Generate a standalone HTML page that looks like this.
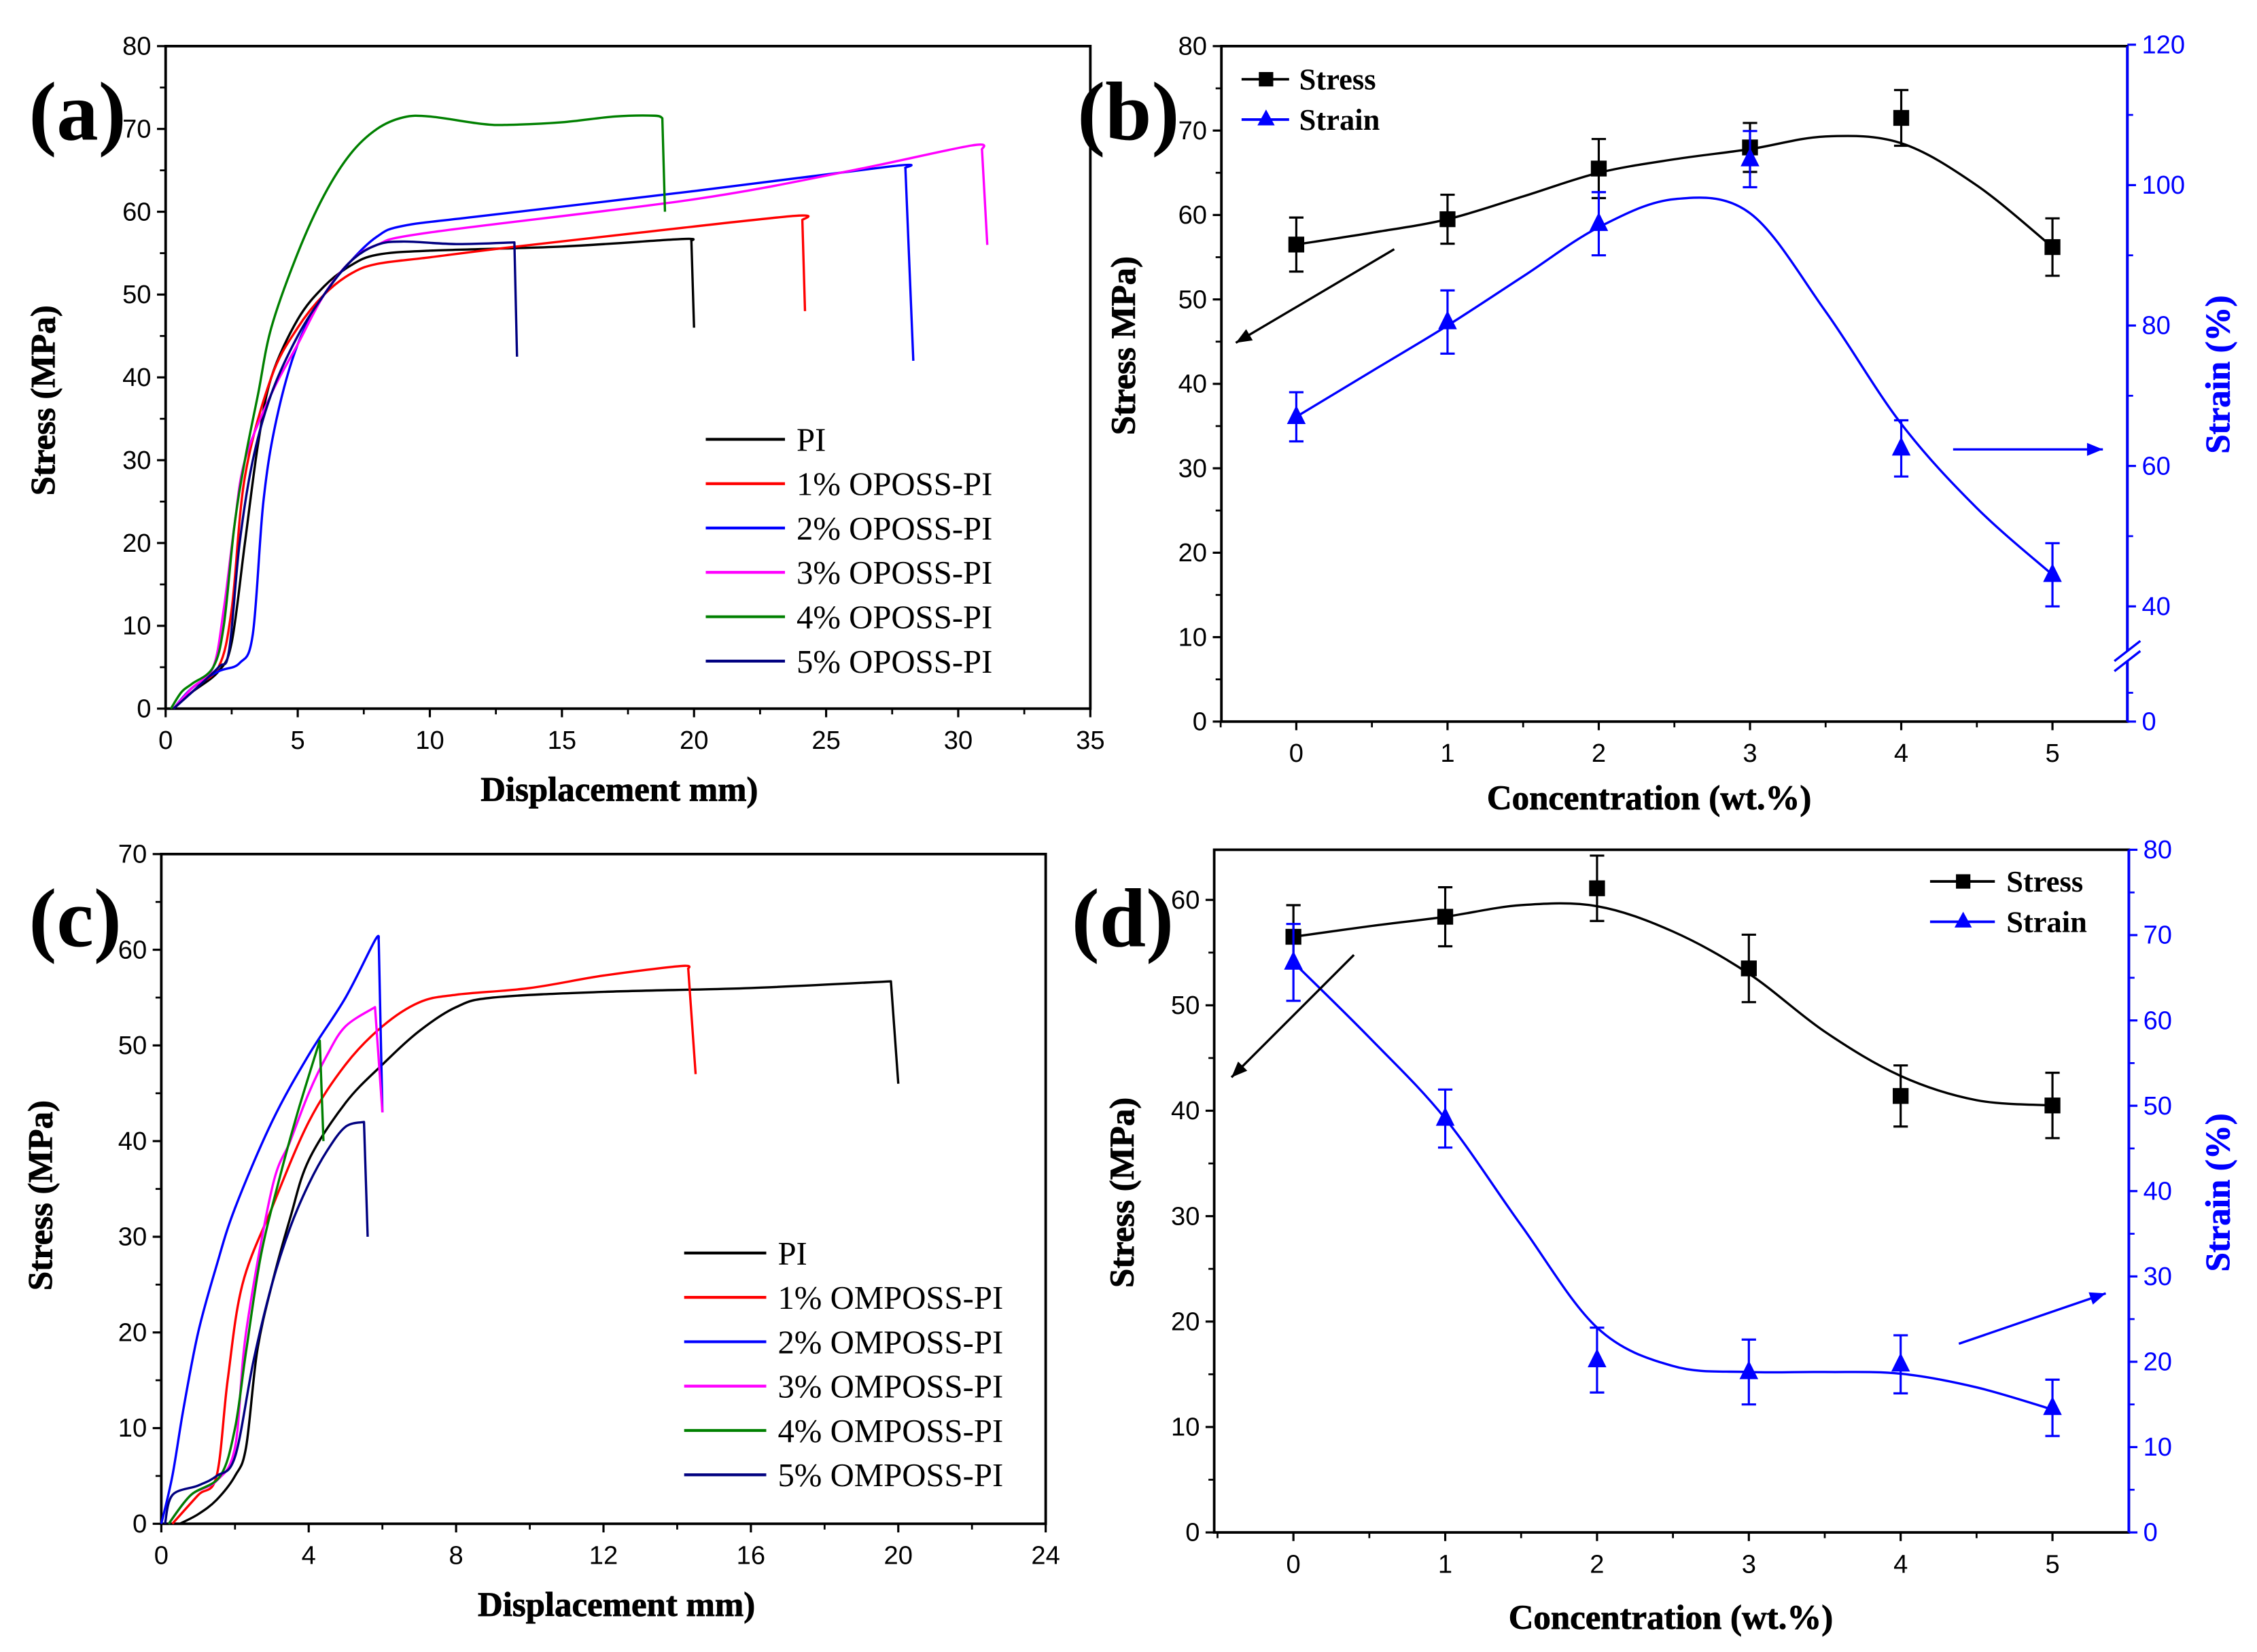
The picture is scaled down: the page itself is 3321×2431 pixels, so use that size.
<!DOCTYPE html>
<html><head><meta charset="utf-8"><style>
html,body{margin:0;padding:0;background:#fff;}
svg{display:block;}
text{font-family:"Liberation Sans",Arial,sans-serif;}
.t{font-family:"Liberation Serif","Times New Roman",serif;font-weight:bold;}
.lg{font-family:"Liberation Serif","Times New Roman",serif;}
</style></head><body>
<svg id="fig" width="3321" height="2431" viewBox="0 0 1567 1147" xmlns="http://www.w3.org/2000/svg"></svg>
<script>
// ---------- Data ----------
const aPI=[[0.3,0],[1,2],[2,4.5],[2.5,8],[3,20],[3.5,32],[4,40],[5,47],[6,51],[7,53.5],[8,54.8],[10,55.3],[15,55.8],[19.5,56.7],[19.9,56.5],[20,46]];
const a1=[[0.3,0],[1,2.5],[2,5],[2.5,12],[3,28],[4,40],[5,46],[6,50],[7,52.5],[8,53.7],[10,54.5],[13,55.7],[18,57.5],[23.8,59.5],[24.1,59],[24.2,48]];
const a2=[[0.3,0],[1,2.5],[2,4.5],[2.8,5.5],[3.3,9],[3.7,25],[4.2,35],[5,44],[6,50],[7,54],[8,57],[9,58.3],[12,59.5],[20,62.5],[27.5,65.5],[28,65.3],[28.3,42]];
const a3=[[0.3,0],[1,2.5],[1.8,5],[2.2,12],[2.6,22],[3,30],[4,38],[5,44],[6,50],[7,54],[8,56],[10,57.5],[20,61.5],[26,65],[30.5,68],[30.9,67.5],[31.1,56]];
const a4=[[0.2,0],[0.6,2],[1,3],[1.8,5],[2.2,10],[2.6,22],[3,30],[3.5,38],[4,46],[5,55],[6,62],[7,67],[8,70],[9,71.4],[10,71.5],[12,70.6],[13,70.5],[15,70.8],[17,71.5],[18.5,71.6],[18.8,71.3],[18.9,60]];
const a5=[[0.3,0],[1,2],[2,5],[2.4,7],[2.8,20],[3.3,30],[4,38],[5,45],[6,50],[7,54],[8,56],[9,56.4],[11,56.1],[13.2,56.3],[13.3,42.5]];
const aLabels=["PI","1% OPOSS-PI","2% OPOSS-PI","3% OPOSS-PI","4% OPOSS-PI","5% OPOSS-PI"];
const cLabels=["PI","1% OMPOSS-PI","2% OMPOSS-PI","3% OMPOSS-PI","4% OMPOSS-PI","5% OMPOSS-PI"];
const cPI=[[0.5,0],[1,1],[1.5,2.5],[2,5],[2.3,8],[2.6,18],[3,25],[3.5,32],[4,38],[5,44],[6,48],[7,51.5],[8,54],[9,55],[12,55.6],[16,56],[19.8,56.7],[20,46]];
const c1=[[0.3,0],[1,3],[1.5,5],[1.8,15],[2.2,25],[3,33],[4,42],[5,48],[6,52],[7,54.5],[8,55.3],[10,56],[12,57.3],[14.1,58.3],[14.3,58],[14.5,47]];
const c2=[[0,0],[0.3,5],[0.6,12],[1,20],[1.5,27],[2,33],[3,42],[4,49],[5,55],[5.8,61],[5.9,61],[6,43]];
const c3=[[0.2,0],[0.8,3],[1.5,4.5],[2,8],[2.3,20],[3,35],[3.5,40],[4,45],[4.5,49],[5,52],[5.8,54],[6,43]];
const c4=[[0.2,0],[0.8,3],[1.6,5],[2,10],[2.3,18],[2.7,28],[3.2,36],[3.7,43],[4.3,50.5],[4.4,40]];
const c5=[[0.1,0],[0.3,3],[1,4],[1.5,5],[2,7],[2.5,17],[3,25],[3.5,31],[4,35.5],[4.5,39],[5,41.5],[5.5,42],[5.6,30]];
const colors=["#000000","#ff0000","#0000ff","#ff00ff","#008000","#000080"];
const conc=[0,1,2,3,4,5];
const bStress=[56.5,59.5,65.5,68,71.5,56.2];
const bStressErr=[3.2,2.9,3.5,2.9,3.3,3.4];
const bStrain=[67,80.5,94.5,103.7,62.5,44.5];
const bStrainErr=[3.5,4.5,4.5,4,4,4.5];
const fitX=[0,0.5,1,1.5,2,2.5,3,3.5,4,4.5,5];
const bStressFit=[56.5,57.9,59.5,62.2,65,66.6,67.8,69.3,68.5,63.5,56.2];
const bStrainFit=[67,73.5,80,87,94,98,96,82,66,54,44.5];
const dStress=[56.5,58.4,61.1,53.5,41.4,40.5];
const dStressErr=[3,2.8,3.1,3.2,2.9,3.1];
const dStrain=[66.8,48.5,20.2,18.8,19.7,14.6];
const dStrainErr=[4.5,3.4,3.8,3.8,3.4,3.3];
const dStressFit=[56.5,57.5,58.4,59.5,59.4,57,53,47.5,43.3,41,40.5];
const dStrainFit=[66.8,58,48.5,36,24,19.5,18.8,18.8,18.6,17,14.4];

// ---------- helpers ----------
const NS="http://www.w3.org/2000/svg";
const svg=document.getElementById('fig');
function mk(tag,at,parent){const e=document.createElementNS(NS,tag);for(const k in at)e.setAttribute(k,at[k]);(parent||svg).appendChild(e);return e;}
function txt(s,at,parent){const e=mk('text',at,parent);e.textContent=s;return e;}
function smoothSeg(pts){let d='';
 for(let i=0;i<pts.length-1;i++){const p0=pts[i-1]||pts[i],p1=pts[i],p2=pts[i+1],p3=pts[i+2]||p2;
  const c1=[p1[0]+(p2[0]-p0[0])/6,p1[1]+(p2[1]-p0[1])/6],c2=[p2[0]-(p3[0]-p1[0])/6,p2[1]-(p3[1]-p1[1])/6];
  d+=' C'+c1.map(v=>v.toFixed(2))+' '+c2.map(v=>v.toFixed(2))+' '+p2.map(v=>v.toFixed(2));}
 return d;}
function smooth(pts){return 'M'+pts[0][0].toFixed(2)+','+pts[0][1].toFixed(2)+smoothSeg(pts);}
function curve(pts){const body=pts.slice(0,-1),last=pts[pts.length-1];
 return smooth(body)+' L'+last[0].toFixed(2)+','+last[1].toFixed(2);}

function frame(x0,y0,x1,y1,name){const r=mk('rect',{x:x0,y:y0,width:x1-x0,height:y1-y0,fill:'none',stroke:'#000','stroke-width':1.8});
 
 }
function xAxis(sx,y,ticks,minor,name){
 const g=mk('g',{});
 
 
 ticks.forEach(v=>{mk('line',{x1:sx(v),x2:sx(v),y1:y,y2:y+6,stroke:'#000','stroke-width':1.5},g);
  const t=txt(String(v),{x:sx(v),y:y+28,'text-anchor':'middle','font-size':18},g);
  
  });
 minor.forEach(v=>mk('line',{x1:sx(v),x2:sx(v),y1:y,y2:y+4,stroke:'#000','stroke-width':1.3},g));}
function yAxis(sy,x,ticks,minor,name,col,side){
 const g=mk('g',{});
 
 
 const dir=side==='r'?1:-1;col=col||'#000';
 ticks.forEach(v=>{mk('line',{x1:x,x2:x+dir*6,y1:sy(v),y2:sy(v),stroke:col,'stroke-width':1.5},g);
  const t=txt(String(v),{x:x+dir*10,y:sy(v)+6,'text-anchor':side==='r'?'start':'end','font-size':18,fill:col},g);
  
  });
 minor.forEach(v=>mk('line',{x1:x,x2:x+dir*4,y1:sy(v),y2:sy(v),stroke:col,'stroke-width':1.3},g));}
function range(a,b,s){const r=[];for(let v=a;v<=b+1e-9;v+=s)r.push(+v.toFixed(3));return r;}
function arrow(x1,y1,x2,y2,col,name){const g=mk('g',{});
 
 
 mk('line',{x1,y1,x2,y2,stroke:col,'stroke-width':1.6},g);
 const a=Math.atan2(y2-y1,x2-x1),L=11,W=4.5;
 const p=[[x2,y2],[x2-L*Math.cos(a)+W*Math.sin(a),y2-L*Math.sin(a)-W*Math.cos(a)],[x2-L*Math.cos(a)-W*Math.sin(a),y2-L*Math.sin(a)+W*Math.cos(a)]];
 mk('polygon',{points:p.map(q=>q.join(',')).join(' '),fill:col},g);}
function panelLabel(s,x,y){const t=txt(s,{x,y,class:'t','font-size':58});
 
 }
function title(s,x,y,rot,col,fs){return txt(s,{x,y,class:'t','font-size':fs||24,'text-anchor':'middle',fill:col||'#000',stroke:col||'#000','stroke-width':0.4,transform:rot?`rotate(-90 ${x} ${y})`:''});}

// ---------- Panel (a) ----------
(function(){
 const X0=115,X1=757,Y0=492,Y1=32;
 const sx=v=>X0+v*(X1-X0)/35, sy=v=>Y0-v*(Y0-Y1)/80;
 frame(X0,Y1,X1,Y0,'plot-frame-a');
 xAxis(sx,Y0,range(0,35,5),range(2.5,32.5,5),'x-axis-a');
 yAxis(sy,X0,range(0,80,10),range(5,75,10),'y-axis-a');
 let t=title('Displacement mm)',430,556);
 
 
 t=title('Stress (MPa)',38,278,true);
 
 
 [aPI,a1,a2,a3,a4,a5].forEach((s,i)=>{const p=mk('path',{d:curve(s.map(q=>[sx(q[0]),sy(q[1])])),fill:'none',stroke:colors[i],'stroke-width':1.6,'stroke-linejoin':'round'});
  
  });
 aLabels.forEach((l,i)=>{const y=305+i*30.8;const g=mk('g',{});
  
  
  mk('line',{x1:490,x2:545,y1:y,y2:y,stroke:colors[i],'stroke-width':2},g);
  txt(l,{x:553,y:y+8,class:'lg','font-size':23},g);});
 panelLabel('(a)',20,97);
})();

// ---------- Panel (c) ----------
(function(){
 const X0=112,X1=726,Y0=1058,Y1=593;
 const sx=v=>X0+v*(X1-X0)/24, sy=v=>Y0-v*(Y0-Y1)/70;
 frame(X0,Y1,X1,Y0,'plot-frame-c');
 xAxis(sx,Y0,range(0,24,4),range(2,22,4),'x-axis-c');
 yAxis(sy,X0,range(0,70,10),range(5,65,10),'y-axis-c');
 let t=title('Displacement mm)',428,1122);
 
 
 t=title('Stress (MPa)',36,830,true);
 
 
 [cPI,c1,c2,c3,c4,c5].forEach((s,i)=>{const p=mk('path',{d:curve(s.map(q=>[sx(q[0]),sy(q[1])])),fill:'none',stroke:colors[i],'stroke-width':1.6,'stroke-linejoin':'round'});
  
  });
 cLabels.forEach((l,i)=>{const y=870+i*30.8;const g=mk('g',{});
  
  
  mk('line',{x1:475,x2:532,y1:y,y2:y,stroke:colors[i],'stroke-width':2},g);
  txt(l,{x:540,y:y+8,class:'lg','font-size':23},g);});
 panelLabel('(c)',20,657);
})();

// ---------- dual-axis panels ----------
function dual(o){
 const {X0,X1,Y0,Y1,sx,sL,sR,stress,sErr,strain,tErr,sFit,tFit,id}=o;
 frame(X0,Y1,X1,Y0,'plot-frame-'+id);
 mk('line',{x1:X1,x2:X1,y1:Y1,y2:Y0,stroke:'#0000ff','stroke-width':1.8});
 xAxis(sx,Y0,[0,1,2,3,4,5],[-0.5,0.5,1.5,2.5,3.5,4.5],'x-axis-'+id);
 yAxis(sL,X0,o.lt,o.lm,'y-axis-left-'+id);
 yAxis(sR,X1,o.rt,o.rm,'y-axis-right-'+id,'#0000ff','r');
 const sf=mk('path',{d:smooth(fitX.map((c,i)=>[sx(c),sL(sFit[i])])),fill:'none',stroke:'#000','stroke-width':1.6});
 
 
 const tf=mk('path',{d:smooth(fitX.map((c,i)=>[sx(c),sR(tFit[i])])),fill:'none',stroke:'#0000ff','stroke-width':1.6});
 
 
 conc.forEach((c,i)=>{const x=sx(c);
  const g=mk('g',{});
  
  
  const ya=sL(stress[i]+sErr[i]),yb=sL(stress[i]-sErr[i]);
  mk('path',{d:`M${x},${ya}V${yb}M${x-5},${ya}H${x+5}M${x-5},${yb}H${x+5}`,stroke:'#000','stroke-width':1.5,fill:'none'},g);
  mk('rect',{x:x-5.5,y:sL(stress[i])-5.5,width:11,height:11,fill:'#000'},g);
  const h=mk('g',{});
  
  
  const yc=sR(strain[i]+tErr[i]),yd=sR(strain[i]-tErr[i]),y=sR(strain[i]);
  mk('path',{d:`M${x},${yc}V${yd}M${x-5},${yc}H${x+5}M${x-5},${yd}H${x+5}`,stroke:'#0000ff','stroke-width':1.5,fill:'none'},h);
  mk('polygon',{points:`${x},${y-8} ${x-6.5},${y+5} ${x+6.5},${y+5}`,fill:'#0000ff'},h);
 });
}

// Panel (b)
(function(){
 const X0=848,X1=1477,Y0=501,Y1=32;
 const sx=c=>900+c*105, sL=v=>Y0-v*(Y0-Y1)/80;
 const sR=v=>v>=40?421-(v-40)*4.875:501-v*2;
 dual({X0,X1,Y0,Y1,sx,sL,sR,stress:bStress,sErr:bStressErr,strain:bStrain,tErr:bStrainErr,sFit:bStressFit,tFit:bStrainFit,id:'b',
  lt:range(0,80,10),lm:range(5,75,10),rt:[0,40,60,80,100,120],rm:[10,50,70,90,110]});
 mk('rect',{x:1470,y:452,width:14,height:7,fill:'#fff'});
 const br=mk('path',{d:'M1468,466 L1486,452 M1468,459 L1486,445',stroke:'#0000ff','stroke-width':1.6,fill:'none'});
 
 
 let t=title('Concentration (wt.%)',1145,562);
 
 
 t=title('Stress MPa)',788,240,true);
 
 
 t=title('Strain (%)',1548,260,true,'#0000ff');
 
 
 let g=mk('g',{});
 
 
 mk('line',{x1:862,x2:895,y1:55,y2:55,stroke:'#000','stroke-width':1.8},g);mk('rect',{x:874,y:50,width:10,height:10,fill:'#000'},g);
 txt('Stress',{x:902,y:62,class:'t','font-size':21},g);
 g=mk('g',{});
 
 
 mk('line',{x1:862,x2:895,y1:83,y2:83,stroke:'#0000ff','stroke-width':1.8},g);mk('polygon',{points:'879,76 873,87 885,87',fill:'#0000ff'},g);
 txt('Strain',{x:902,y:90,class:'t','font-size':21},g);
 arrow(968,173,858,238,'#000','arrow-stress-b');
 arrow(1356,312,1460,312,'#0000ff','arrow-strain-b');
 panelLabel('(b)',748,97);
})();

// Panel (d)
(function(){
 const X0=843,X1=1478,Y0=1064,Y1=590;
 const sx=c=>898+c*105.4, sL=v=>Y0-v*7.32, sR=v=>Y0-v*(Y0-Y1)/80;
 dual({X0,X1,Y0,Y1,sx,sL,sR,stress:dStress,sErr:dStressErr,strain:dStrain,tErr:dStrainErr,sFit:dStressFit,tFit:dStrainFit,id:'d',
  lt:range(0,60,10),lm:range(5,55,10),rt:range(0,80,10),rm:range(5,75,10)});
 let t=title('Concentration (wt.%)',1160,1131);
 
 
 t=title('Stress (MPa)',787,828,true);
 
 
 t=title('Strain (%)',1548,828,true,'#0000ff');
 
 
 let g=mk('g',{});
 
 
 mk('line',{x1:1340,x2:1385,y1:612,y2:612,stroke:'#000','stroke-width':1.8},g);mk('rect',{x:1358,y:607,width:10,height:10,fill:'#000'},g);
 txt('Stress',{x:1393,y:619,class:'t','font-size':21},g);
 g=mk('g',{});
 
 
 mk('line',{x1:1340,x2:1385,y1:640,y2:640,stroke:'#0000ff','stroke-width':1.8},g);mk('polygon',{points:'1363,633 1357,644 1369,644',fill:'#0000ff'},g);
 txt('Strain',{x:1393,y:647,class:'t','font-size':21},g);
 arrow(940,663,855,748,'#000','arrow-stress-d');
 arrow(1360,933,1462,898,'#0000ff','arrow-strain-d');
 panelLabel('(d)',744,657);
})();
</script>
</body></html>
